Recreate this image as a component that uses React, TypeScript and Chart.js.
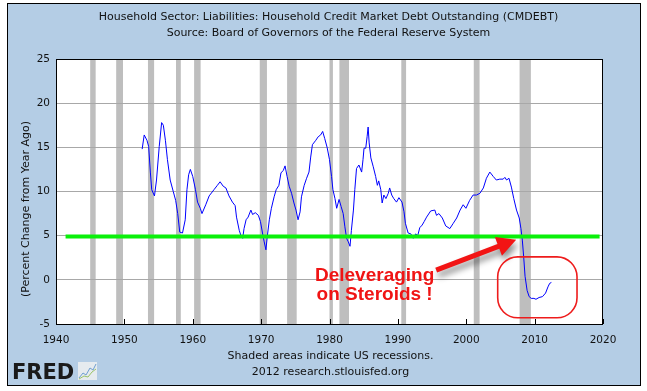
import { useEffect, useRef } from "react";
import { Chart, registerables } from "chart.js";

Chart.register(...registerables);

const titleLines = [
  "Household Sector: Liabilities: Household Credit Market Debt Outstanding (CMDEBT)",
  "Source: Board of Governors of the Federal Reserve System",
];
const footerLines = ["Shaded areas indicate US recessions.", "2012 research.stlouisfed.org"];
const yAxisTitle = "(Percent Change from Year Ago)";

const years = [
  1952.6, 1952.9, 1953.3, 1953.55, 1953.8, 1954.0, 1954.4, 1954.7, 1955.1, 1955.45,
  1955.7, 1956.0, 1956.3, 1956.7, 1957.15, 1957.5, 1957.8, 1958.1, 1958.5, 1958.9,
  1959.15, 1959.4, 1959.65, 1960.0, 1960.4, 1960.7, 1961.1, 1961.35, 1961.9, 1962.4,
  1963.1, 1963.6, 1964.0, 1964.45, 1964.85, 1965.3, 1965.8, 1966.2, 1966.4, 1966.8,
  1967.05, 1967.3, 1967.5, 1967.8, 1968.1, 1968.5, 1968.75, 1969.15, 1969.6, 1969.9,
  1970.2, 1970.45, 1970.7, 1970.9, 1971.2, 1971.5, 1971.9, 1972.2, 1972.6, 1972.9,
  1973.25, 1973.5, 1973.8, 1974.1, 1974.45, 1974.8, 1975.1, 1975.4, 1975.7, 1975.9,
  1976.3, 1976.65, 1977.0, 1977.25, 1977.5, 1978.0, 1978.35, 1978.7, 1979.0, 1979.3,
  1979.65, 1980.0, 1980.3, 1980.5, 1980.8, 1981.05, 1981.4, 1981.7, 1982.0, 1982.25,
  1982.5, 1982.75, 1983.0, 1983.2, 1983.5, 1983.7, 1983.95, 1984.3, 1984.7, 1984.9,
  1985.05, 1985.3, 1985.5, 1985.65, 1985.8, 1986.05, 1986.4, 1986.75, 1987.0, 1987.2,
  1987.5, 1987.7, 1987.95, 1988.25, 1988.6, 1988.8, 1989.1, 1989.4, 1989.8, 1990.15,
  1990.6, 1990.9, 1991.1, 1991.5, 1991.9, 1992.25, 1992.6, 1992.9, 1993.2, 1993.55,
  1993.85, 1994.2, 1994.8, 1995.4, 1995.65, 1996.0, 1996.5, 1997.0, 1997.6, 1998.1,
  1998.6, 1999.1, 1999.55, 1999.95, 2000.5, 2001.0, 2001.5, 2002.0, 2002.5, 2002.95,
  2003.45, 2003.95, 2004.4, 2004.9, 2005.4, 2005.65, 2005.9, 2006.25, 2006.6, 2006.95,
  2007.35, 2007.75, 2008.0, 2008.2, 2008.4, 2008.6, 2008.9, 2009.2, 2009.5, 2009.9,
  2010.2, 2010.65, 2011.15, 2011.6, 2011.95, 2012.2, 2012.45,
];

const pctChange = [
  14.8, 16.4, 15.8, 15.1, 12.2, 10.2, 9.5, 11.3, 15.1, 17.8,
  17.5, 15.8, 13.6, 11.3, 10.0, 9.0, 7.5, 5.4, 5.3, 6.8,
  10.2, 11.9, 12.5, 11.7, 10.2, 8.8, 8.1, 7.5, 8.5, 9.5,
  10.2, 10.7, 11.1, 10.6, 10.4, 9.5, 8.8, 8.4, 7.1, 5.6,
  5.0, 4.7, 5.8, 6.8, 7.1, 7.9, 7.4, 7.6, 7.3, 6.6,
  5.3, 4.3, 3.4, 4.9, 6.8, 8.1, 9.4, 10.2, 10.7, 12.1,
  12.4, 12.9, 11.7, 10.6, 9.8, 8.7, 7.9, 6.8, 7.7, 9.4,
  10.7, 11.5, 12.2, 13.9, 15.3, 15.8, 16.2, 16.4, 16.8, 16.0,
  15.0, 13.6, 11.7, 10.2, 9.2, 8.1, 9.1, 8.3, 7.5, 6.0,
  4.7, 4.3, 3.8, 5.6, 7.9, 10.2, 12.6, 13.0, 12.2, 13.6,
  14.9, 14.9, 16.2, 17.3, 15.5, 13.8, 12.8, 11.7, 10.7, 11.2,
  10.2, 8.7, 9.6, 9.2, 9.8, 10.4, 9.6, 9.2, 8.8, 9.3,
  8.8, 7.7, 6.4, 5.3, 5.2, 4.7, 5.2, 5.0, 5.9, 6.2,
  6.6, 7.1, 7.8, 7.9, 7.3, 7.5, 7.0, 6.1, 5.8, 6.4,
  7.0, 7.9, 8.5, 8.1, 9.0, 9.6, 9.6, 9.8, 10.4, 11.5,
  12.2, 11.7, 11.3, 11.4, 11.4, 11.6, 11.3, 11.5, 10.5, 9.2,
  7.9, 7.0, 5.8, 4.5, 2.6, 0.4, -1.2, -1.9, -2.1, -2.1,
  -2.2, -2.0, -1.9, -1.5, -0.8, -0.4, -0.3,
];

const recessionStart = [1945.0, 1948.8, 1953.45, 1957.55, 1960.2, 1969.8, 1973.8, 1980.0, 1981.45, 1990.5, 2001.1, 2007.8];
const recessionEnd = [1945.8, 1949.8, 1954.35, 1958.25, 1961.15, 1970.85, 1975.2, 1980.5, 1982.85, 1991.2, 2001.95, 2009.45];

const xMin = 1940;
const xMax = 2020;
const xStep = 10;
const yMin = -5;
const yMax = 25;
const yStep = 5;

// hand-drawn annotation (anchored in data units)
const benchmarkLevel = 4.9;
const benchmarkFrom = 1941.4;
const benchmarkTo = 2019.5;
const annotationLines = ["Deleveraging", "on Steroids !"];
const annotationTextX = 1986.6;
const annotationTextY = [-0.15, -2.3];
const arrowTail = { x: 1995.6, y: 1.1 };
const arrowTip = { x: 2007.3, y: 4.55 };
const ringBox = { x0: 2004.6, x1: 2016.2, y0: 2.6, y1: -4.3 };

const TEXT_FONT = "11px 'DejaVu Sans'";

const decorPlugin = {
  id: "fredDecor",
  beforeDraw(chart: any) {
    const { ctx, chartArea: a, scales } = chart;
    const xs = scales.x;
    ctx.save();
    ctx.fillStyle = "#ffffff";
    ctx.fillRect(0, 0, chart.width, chart.height);
    ctx.fillStyle = "#b4cde5";
    ctx.fillRect(7, 3, 634, 383);
    ctx.strokeStyle = "#000000";
    ctx.lineWidth = 1;
    ctx.strokeRect(7.5, 3.5, 633, 382);
    ctx.fillStyle = "#ffffff";
    ctx.fillRect(a.left, a.top, a.right - a.left, a.bottom - a.top);
    ctx.fillStyle = "#bebebe";
    for (let i = 0; i < recessionStart.length; i++) {
      const x0 = xs.getPixelForValue(recessionStart[i]);
      const x1 = xs.getPixelForValue(recessionEnd[i]);
      ctx.fillRect(x0, a.top, x1 - x0, a.bottom - a.top);
    }
    ctx.restore();
  },
  afterDatasetsDraw(chart: any) {
    const { ctx, chartArea: a, scales } = chart;
    const xs = scales.x;
    const ys = scales.y;
    ctx.save();
    // plot frame
    ctx.strokeStyle = "#000000";
    ctx.lineWidth = 1;
    ctx.strokeRect(Math.round(a.left) + 0.5, Math.round(a.top) + 0.5, Math.round(a.right - a.left) - 1, Math.round(a.bottom - a.top));
    // inner ticks on x axis
    for (let v = xMin; v <= xMax; v += xStep) {
      const px = Math.round(xs.getPixelForValue(v)) + 0.5;
      ctx.beginPath();
      ctx.moveTo(px, a.bottom);
      ctx.lineTo(px, a.bottom - 5);
      ctx.stroke();
    }
    // green benchmark line
    const gy = ys.getPixelForValue(benchmarkLevel);
    ctx.strokeStyle = "#0af00a";
    ctx.lineWidth = 4;
    ctx.beginPath();
    ctx.moveTo(xs.getPixelForValue(benchmarkFrom), gy);
    ctx.lineTo(xs.getPixelForValue(benchmarkTo), gy);
    ctx.stroke();

    // arrow with shadow
    const tx = xs.getPixelForValue(arrowTail.x);
    const ty = ys.getPixelForValue(arrowTail.y);
    const hx = xs.getPixelForValue(arrowTip.x);
    const hy = ys.getPixelForValue(arrowTip.y);
    const dx = hx - tx;
    const dy = hy - ty;
    const len = Math.sqrt(dx * dx + dy * dy);
    const ux = dx / len;
    const uy = dy / len;
    const nx = -uy;
    const ny = ux;
    const headLen = 19;
    const headHalf = 10;
    const shaftHalf = 2.6;
    const bx = hx - ux * headLen;
    const by = hy - uy * headLen;
    ctx.save();
    ctx.shadowColor = "rgba(0,0,0,0.45)";
    ctx.shadowBlur = 6;
    ctx.shadowOffsetX = 2;
    ctx.shadowOffsetY = 5;
    ctx.fillStyle = "#f21414";
    ctx.beginPath();
    ctx.moveTo(tx + nx * shaftHalf, ty + ny * shaftHalf);
    ctx.lineTo(bx + nx * shaftHalf, by + ny * shaftHalf);
    ctx.lineTo(bx + nx * headHalf, by + ny * headHalf);
    ctx.lineTo(hx, hy);
    ctx.lineTo(bx - nx * headHalf, by - ny * headHalf);
    ctx.lineTo(bx - nx * shaftHalf, by - ny * shaftHalf);
    ctx.lineTo(tx - nx * shaftHalf, ty - ny * shaftHalf);
    ctx.closePath();
    ctx.fill();
    ctx.restore();

    // annotation text
    ctx.fillStyle = "#f01414";
    ctx.font = "bold 19px 'Liberation Sans'";
    ctx.textAlign = "center";
    ctx.textBaseline = "alphabetic";
    const cx = xs.getPixelForValue(annotationTextX);
    annotationLines.forEach((t, i) => {
      ctx.fillText(t, cx, ys.getPixelForValue(annotationTextY[i]));
    });

    // rounded ring
    const rx0 = xs.getPixelForValue(ringBox.x0);
    const rx1 = xs.getPixelForValue(ringBox.x1);
    const ry0 = ys.getPixelForValue(ringBox.y0);
    const ry1 = ys.getPixelForValue(ringBox.y1);
    ctx.strokeStyle = "#ee1c1c";
    ctx.lineWidth = 1.6;
    ctx.beginPath();
    ctx.roundRect(rx0, ry0, rx1 - rx0, ry1 - ry0, 20);
    ctx.stroke();
    ctx.restore();
  },
  afterDraw(chart: any) {
    const { ctx, chartArea: a } = chart;
    ctx.save();
    ctx.fillStyle = "#111111";
    ctx.font = TEXT_FONT;
    ctx.textAlign = "center";
    ctx.textBaseline = "middle";
    const mid = (a.left + a.right) / 2 - 1;
    ctx.fillText(titleLines[0], mid, 17);
    ctx.fillText(titleLines[1], mid, 33);
    ctx.fillText(footerLines[0], mid + 2, 356);
    ctx.fillText(footerLines[1], mid + 2, 372);
    // y axis title
    ctx.save();
    ctx.translate(26, 209);
    ctx.rotate(-Math.PI / 2);
    ctx.fillText(yAxisTitle, 0, 0);
    ctx.restore();
    // FRED logo
    ctx.textAlign = "left";
    ctx.textBaseline = "alphabetic";
    ctx.fillStyle = "#1a1a1a";
    ctx.font = "bold 21px 'DejaVu Sans'";
    ctx.fillText("FRED", 12, 379);
    // small graph icon
    ctx.fillStyle = "#e6ebef";
    ctx.fillRect(78, 362, 19, 18);
    ctx.strokeStyle = "#6f9fd0";
    ctx.lineWidth = 1;
    ctx.beginPath();
    ctx.moveTo(79, 378);
    ctx.lineTo(83, 373);
    ctx.lineTo(86, 375);
    ctx.lineTo(90, 368);
    ctx.lineTo(93, 370);
    ctx.lineTo(96, 364);
    ctx.stroke();
    ctx.strokeStyle = "#9cc46a";
    ctx.beginPath();
    ctx.moveTo(79, 379);
    ctx.lineTo(84, 376);
    ctx.lineTo(88, 377);
    ctx.lineTo(92, 372);
    ctx.lineTo(96, 369);
    ctx.stroke();
    ctx.restore();
  },
};

export default function App() {
  const ref = useRef<HTMLCanvasElement | null>(null);
  useEffect(() => {
    document.body.style.margin = "0";
    const canvas = ref.current;
    if (!canvas) return;
    const chart = new Chart(canvas, {
      type: "line",
      data: {
        datasets: [
          {
            data: years.map((x, i) => ({ x, y: pctChange[i] })),
            borderColor: "#0000ff",
            borderWidth: 1,
            pointRadius: 0,
            tension: 0,
            fill: false,
          },
        ],
      },
      options: {
        animation: false,
        responsive: false,
        devicePixelRatio: 1,
        layout: { padding: { left: 0, top: 59, right: 44, bottom: 47 } },
        plugins: { legend: { display: false }, title: { display: false }, tooltip: { enabled: false } },
        scales: {
          x: {
            type: "linear",
            min: xMin,
            max: xMax,
            afterFit: (s: any) => {
              s.height = 20;
            },
            ticks: {
              stepSize: xStep,
              color: "#111111",
              font: { family: "DejaVu Sans", size: 10.5 },
              padding: 10,
              maxRotation: 0,
              callback: (v: any) => String(v),
            },
            grid: { display: false, drawTicks: false },
            border: { display: false },
          },
          y: {
            min: yMin,
            max: yMax,
            afterFit: (s: any) => {
              s.width = 56;
            },
            ticks: {
              stepSize: yStep,
              color: "#111111",
              font: { family: "DejaVu Sans", size: 10.5 },
              padding: 6,
            },
            grid: { color: "#a8a8a8", lineWidth: 1, drawTicks: false },
            border: { display: false },
          },
        },
      },
      plugins: [decorPlugin],
    });
    return () => chart.destroy();
  }, []);
  return (
    <div style={{ position: "absolute", left: 0, top: 0, width: 647, height: 391 }}>
      <canvas ref={ref} width={647} height={391} style={{ display: "block", width: 647, height: 391 }} />
    </div>
  );
}
